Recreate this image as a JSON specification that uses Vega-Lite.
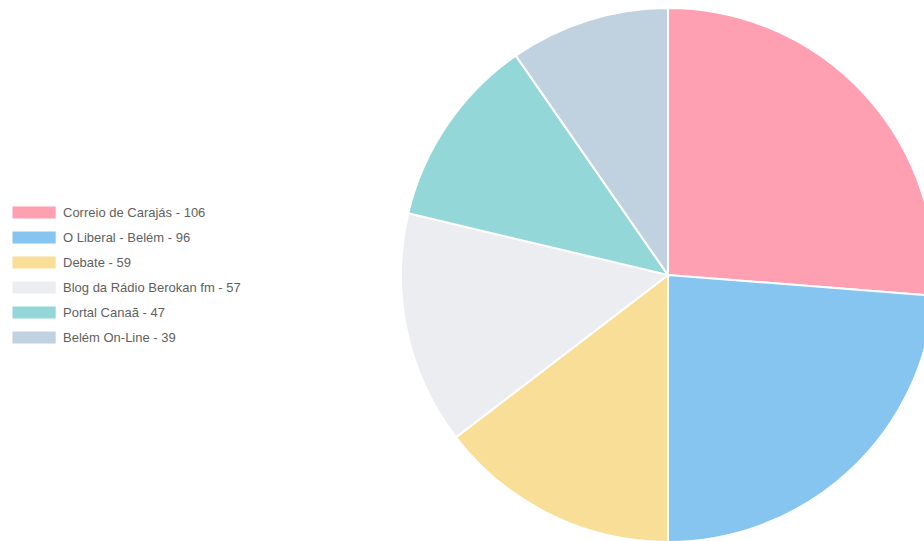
{
  "$schema": "https://vega.github.io/schema/vega-lite/v6.json",
  "width": 512,
  "height": 532,
  "autosize": {"type": "none"},
  "padding": {"left": 412, "top": 9, "right": 0, "bottom": 0},
  "background": "white",
  "config": {"view": {"stroke": null}},
  "data": {
    "values": [
      {"ordem": 1, "label": "Correio de Carajás - 106", "value": 106},
      {"ordem": 2, "label": "O Liberal - Belém  - 96", "value": 96},
      {"ordem": 3, "label": "Debate - 59", "value": 59},
      {"ordem": 4, "label": "Blog da Rádio Berokan fm - 57", "value": 57},
      {"ordem": 5, "label": "Portal Canaã - 47", "value": 47},
      {"ordem": 6, "label": "Belém On-Line - 39", "value": 39}
    ]
  },
  "mark": {"type": "arc", "radius": 267, "stroke": "white", "strokeWidth": 2},
  "encoding": {
    "theta": {"field": "value", "type": "quantitative", "stack": true},
    "order": {"field": "ordem", "type": "ordinal"},
    "color": {
      "field": "label",
      "type": "nominal",
      "sort": null,
      "scale": {
        "domain": ["Correio de Carajás - 106", "O Liberal - Belém  - 96", "Debate - 59", "Blog da Rádio Berokan fm - 57", "Portal Canaã - 47", "Belém On-Line - 39"],
        "range": ["#FF9FB2", "#86C5EF", "#F9DE98", "#EBEDF0", "#94D7D8", "#C0D2DF"]
      },
      "legend": {
        "orient": "none",
        "legendX": -400,
        "legendY": 197,
        "title": null,
        "symbolType": "M-1,-1H6.2V1H-1Z",
        "symbolSize": 144,
        "symbolStrokeWidth": 0,
        "symbolOpacity": 1,
        "labelFont": "Liberation Sans",
        "labelFontSize": 13,
        "labelColor": "#5f5f5f",
        "labelOffset": 38,
        "labelLimit": 400,
        "rowPadding": 11
      }
    }
  }
}
